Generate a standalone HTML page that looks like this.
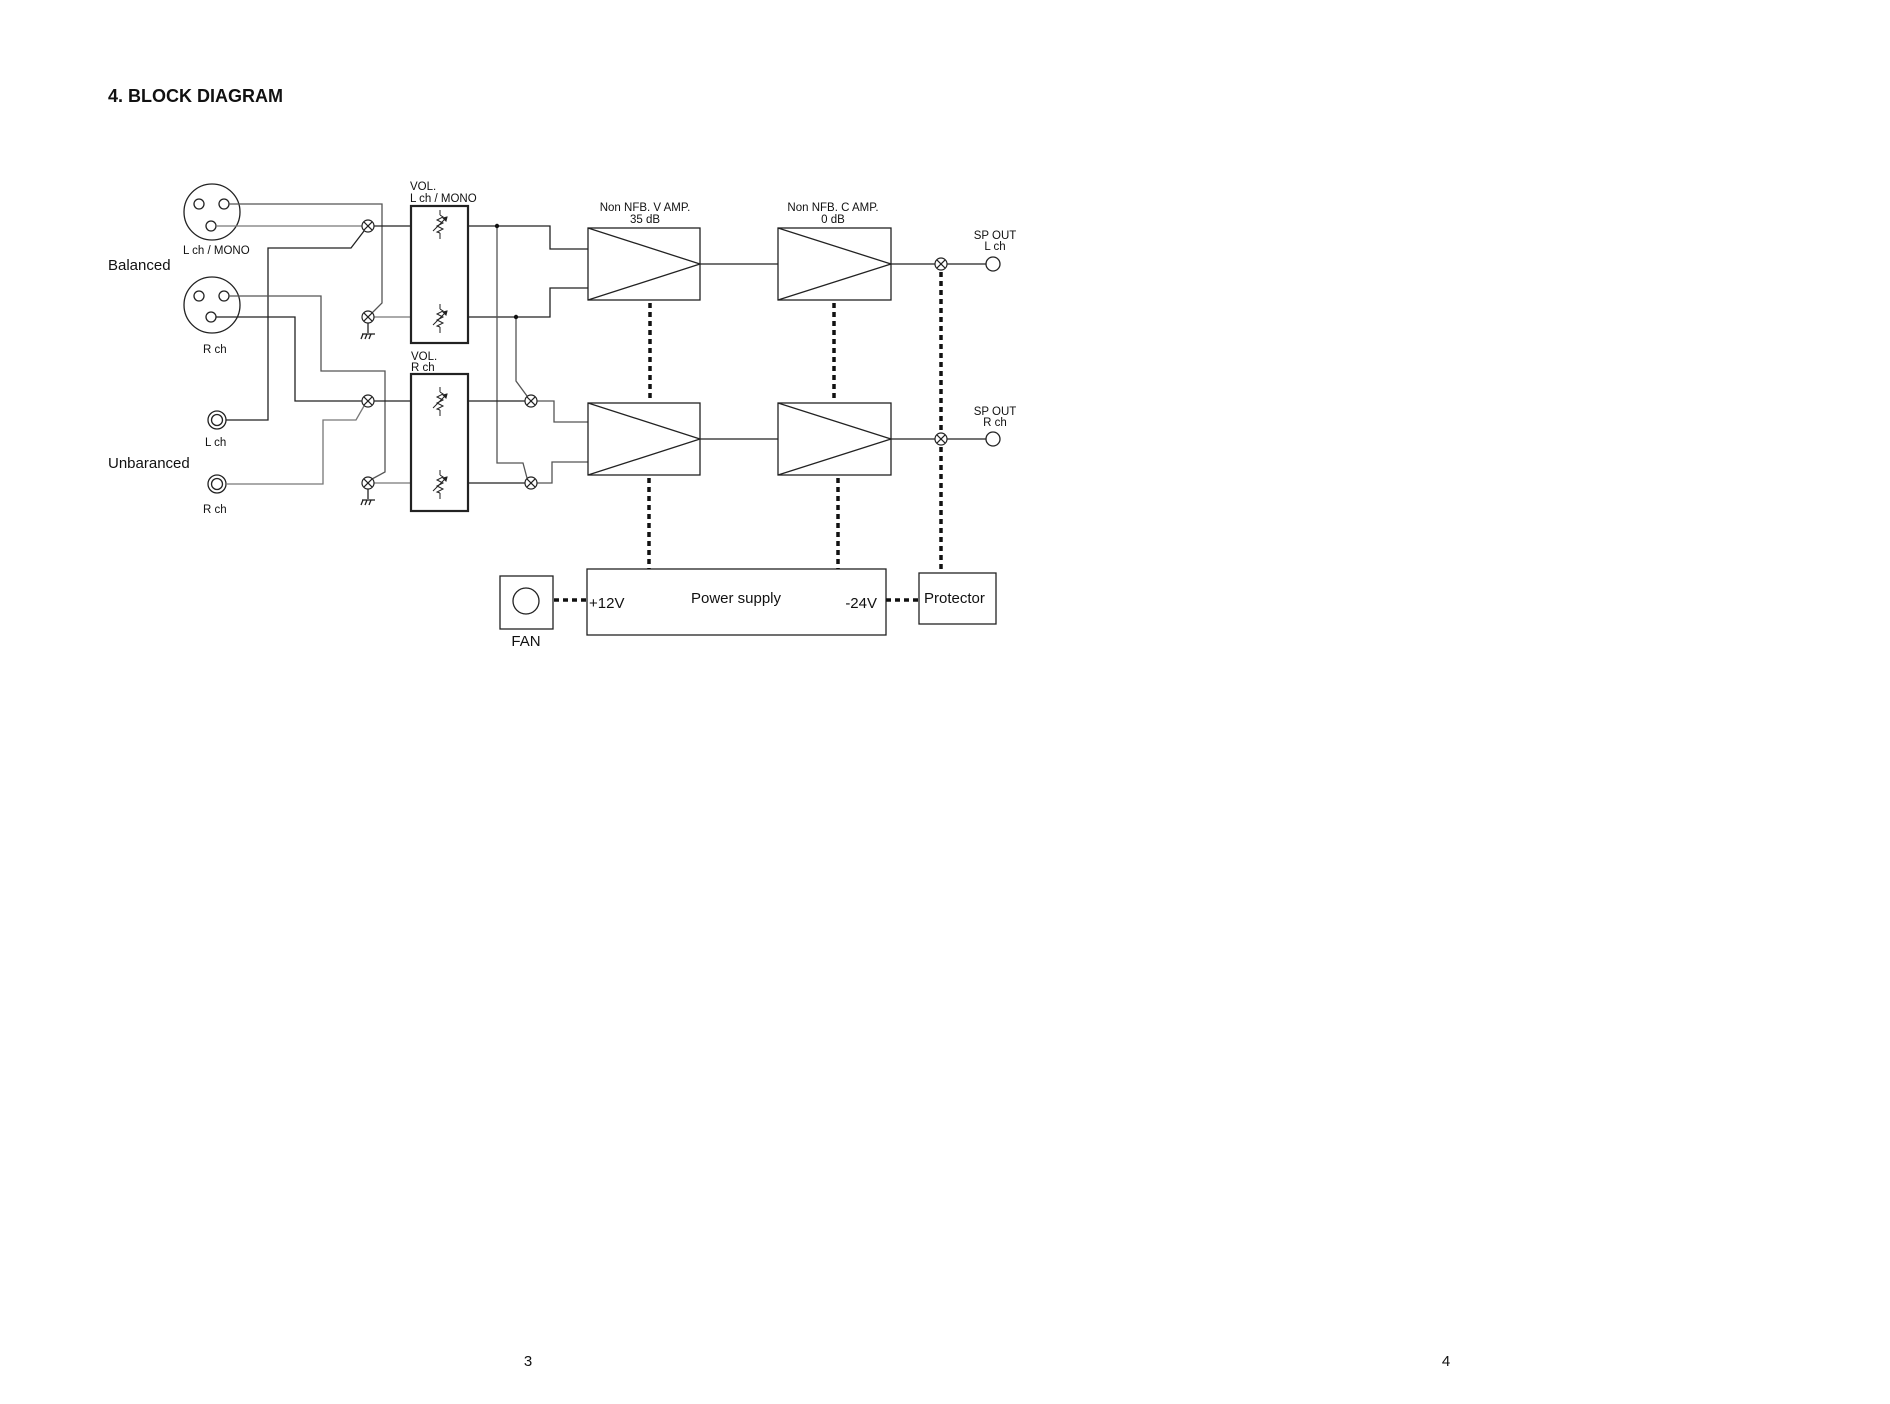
<!DOCTYPE html>
<html><head><meta charset="utf-8"><style>
html,body{margin:0;padding:0;background:#fff;}
svg{display:block;}
text{font-family:"Liberation Sans",Arial,sans-serif;fill:#111;}
</style></head><body>
<svg width="1890" height="1404" viewBox="0 0 1890 1404" xmlns="http://www.w3.org/2000/svg">
<defs>
<g id="sw"><circle r="6" fill="#fff" stroke="#222" stroke-width="1.2"/><line x1="-4.2" y1="-4.2" x2="4.2" y2="4.2" stroke="#222" stroke-width="1.2"/><line x1="-4.2" y1="4.2" x2="4.2" y2="-4.2" stroke="#222" stroke-width="1.2"/></g>
<g id="pot" fill="none" stroke="#222" stroke-width="1"><line x1="0" y1="-14" x2="0" y2="-9"/><polyline points="0,-9 3,-7 -3,-4 3,-1 -3,2 3,5 -3,8 0,9"/><line x1="0" y1="9" x2="0" y2="15"/><line x1="-7" y1="7" x2="7" y2="-7"/><polygon points="7,-7 3,-6 6,-3" fill="#222"/></g>
</defs>
<text x="108" y="102" font-size="18" font-weight="bold">4. BLOCK DIAGRAM</text>

<g fill="none" stroke="#222" stroke-width="1.3">
<circle cx="212" cy="212" r="28"/>
<circle cx="199" cy="204" r="5"/><circle cx="224" cy="204" r="5"/><circle cx="211" cy="226" r="5"/>
<circle cx="212" cy="305" r="28"/>
<circle cx="199" cy="296" r="5"/><circle cx="224" cy="296" r="5"/><circle cx="211" cy="317" r="5"/>
<circle cx="217" cy="420" r="9"/><circle cx="217" cy="420" r="5.5"/>
<circle cx="217" cy="484" r="9"/><circle cx="217" cy="484" r="5.5"/>

<polyline points="229,204 382,204 382,303 372,313" stroke="#555"/>
<polyline points="216,226 362,226" stroke="#777"/>
<polyline points="364,231 351,248 268,248 268,420 226,420"/>
<polyline points="229,296 321,296 321,371 385,371 385,472 372,479" stroke="#555"/>
<polyline points="216,317 295,317 295,401 362,401"/>
<polyline points="364,406 356,420 323,420 323,484 226,484" stroke="#777"/>
<line x1="374" y1="226" x2="411" y2="226"/>
<line x1="374" y1="317" x2="411" y2="317" stroke="#777"/>
<line x1="374" y1="401" x2="411" y2="401"/>
<line x1="374" y1="483" x2="411" y2="483" stroke="#777"/>
<line x1="368" y1="323" x2="368" y2="333"/>
<line x1="362" y1="334" x2="375" y2="334"/>
<line x1="363" y1="334" x2="361" y2="339"/><line x1="367" y1="334" x2="365" y2="339"/><line x1="371" y1="334" x2="369" y2="339"/>
<line x1="368" y1="489" x2="368" y2="499"/>
<line x1="362" y1="500" x2="375" y2="500"/>
<line x1="363" y1="500" x2="361" y2="505"/><line x1="367" y1="500" x2="365" y2="505"/><line x1="371" y1="500" x2="369" y2="505"/>

<rect x="411" y="206" width="57" height="137" stroke-width="2.2"/>
<rect x="411" y="374" width="57" height="137" stroke-width="2.2"/>

<polyline points="468,226 550,226 550,249 588,249"/>
<polyline points="468,317 550,317 550,288 588,288"/>
<polyline points="497,226 497,463 523,463 527,478" stroke="#555"/>
<polyline points="516,317 516,381 527,396" stroke="#555"/>
<line x1="468" y1="401" x2="525" y2="401"/>
<polyline points="537,401 554,401 554,422 588,422" stroke="#555"/>
<line x1="468" y1="483" x2="525" y2="483"/>
<polyline points="537,483 552,483 552,462 588,462" stroke="#555"/>
</g>

<use href="#sw" x="368" y="226"/>
<use href="#sw" x="368" y="317"/>
<use href="#sw" x="368" y="401"/>
<use href="#sw" x="368" y="483"/>
<use href="#sw" x="531" y="401"/>
<use href="#sw" x="531" y="483"/>

<use href="#pot" x="440" y="224"/>
<use href="#pot" x="440" y="318"/>
<use href="#pot" x="440" y="401"/>
<use href="#pot" x="440" y="484"/>

<circle cx="497" cy="226" r="2.2" fill="#111"/>
<circle cx="516" cy="317" r="2.2" fill="#111"/>

<g transform="translate(-3,-2)">
<g fill="none" stroke="#222" stroke-width="1.3">
<rect x="591" y="230" width="112" height="72"/><polyline points="591,230 703,266 591,302"/>
<rect x="591" y="405" width="112" height="72"/><polyline points="591,405 703,441 591,477"/>
<rect x="781" y="230" width="113" height="72"/><polyline points="781,230 894,266 781,302"/>
<rect x="781" y="405" width="113" height="72"/><polyline points="781,405 894,441 781,477"/>
<line x1="703" y1="266" x2="781" y2="266"/>
<line x1="703" y1="441" x2="781" y2="441"/>
<line x1="894" y1="266" x2="938" y2="266"/><line x1="950" y1="266" x2="989" y2="266"/>
<line x1="894" y1="441" x2="938" y2="441"/><line x1="950" y1="441" x2="989" y2="441"/>
<circle cx="996" cy="266" r="7"/><circle cx="996" cy="441" r="7"/>
<rect x="590" y="571" width="299" height="66"/>
<rect x="922" y="575" width="77" height="51"/>
<rect x="503" y="578" width="53" height="53"/>
<circle cx="529" cy="603" r="13"/>
</g>
<use href="#sw" x="944" y="266"/>
<use href="#sw" x="944" y="441"/>
<g stroke="#111" stroke-width="3.5" stroke-dasharray="5,4" fill="none">
<line x1="653" y1="305" x2="653" y2="403"/>
<line x1="837" y1="305" x2="837" y2="403"/>
<line x1="652" y1="480" x2="652" y2="571"/>
<line x1="841" y1="480" x2="841" y2="571"/>
<line x1="944" y1="274" x2="944" y2="433"/>
<line x1="944" y1="449" x2="944" y2="575"/>
<line x1="557" y1="602" x2="590" y2="602"/>
<line x1="889" y1="602" x2="922" y2="602"/>
</g>
<g font-size="11.5">
<text x="648" y="213" text-anchor="middle">Non NFB. V AMP.</text>
<text x="648" y="225" text-anchor="middle">35 dB</text>
<text x="836" y="213" text-anchor="middle">Non NFB. C AMP.</text>
<text x="836" y="225" text-anchor="middle">0 dB</text>
<text x="998" y="241" text-anchor="middle">SP OUT</text>
<text x="998" y="252" text-anchor="middle">L ch</text>
<text x="998" y="417" text-anchor="middle">SP OUT</text>
<text x="998" y="428" text-anchor="middle">R ch</text>
</g>
<g font-size="15">
<text x="592" y="610">+12V</text>
<text x="739" y="605" text-anchor="middle">Power supply</text>
<text x="880" y="610" text-anchor="end">-24V</text>
<text x="927" y="605">Protector</text>
<text x="529" y="648" text-anchor="middle">FAN</text>
</g>
</g>

<g font-size="11.5">
<text x="183" y="254">L ch / MONO</text>
<text x="203" y="353">R ch</text>
<text x="205" y="446">L ch</text>
<text x="203" y="513">R ch</text>
<text x="410" y="190">VOL.</text>
<text x="410" y="202">L ch / MONO</text>
<text x="411" y="360">VOL.</text>
<text x="411" y="371">R ch</text>
</g>
<g font-size="15">
<text x="108" y="270">Balanced</text>
<text x="108" y="468">Unbaranced</text>
<text x="528" y="1366" text-anchor="middle">3</text>
<text x="1446" y="1366" text-anchor="middle">4</text>
</g>
</svg>
</body></html>
